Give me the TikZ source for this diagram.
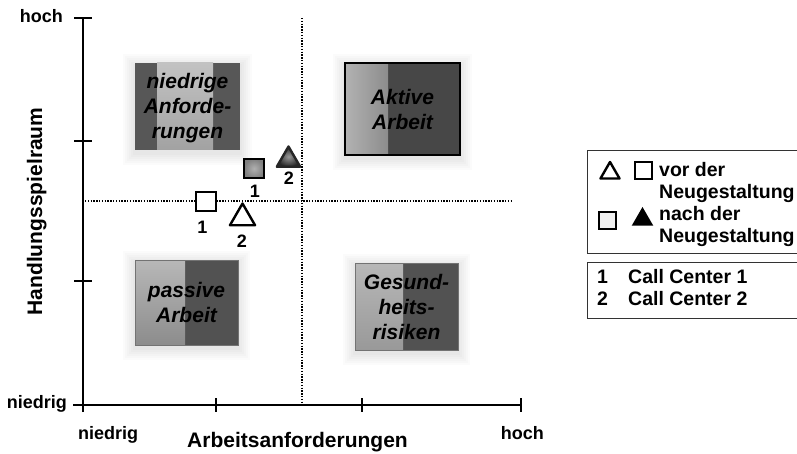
\documentclass[tikz,border=0pt]{standalone}
\usepackage{fontspec}
\setmainfont{Liberation Sans}
\usetikzlibrary{shapes.geometric}

\definecolor{fielddark}{HTML}{575757}
\definecolor{fieldlightA}{HTML}{C2C2C2}
\definecolor{fieldlightB}{HTML}{A2A2A2}
\definecolor{markgray}{HTML}{B0B0B0}

\begin{document}
\begin{tikzpicture}[x=1pt,y=-1pt,
  axis/.style={line width=2.4pt},
  tick/.style={line width=1.4pt},
  guide/.style={line width=1.5pt, dash pattern=on 1.4pt off 1.4pt},
  axlab/.style={font=\fontsize{18}{20}\selectfont\bfseries, inner sep=0pt},
  axtitle/.style={font=\fontsize{21}{24}\selectfont\bfseries, inner sep=0pt},
  fieldbox/.style={rectangle, inner sep=0pt, align=center,
    font=\fontsize{21}{25}\selectfont\bfseries\itshape},
  digit/.style={font=\fontsize{18}{20}\selectfont\bfseries, inner sep=0pt},
  sqmark/.style={rectangle, draw=black, line width=2.4pt, minimum size=19.5pt, inner sep=0pt},
  trimark/.style={regular polygon, regular polygon sides=3, draw=black,
    line width=2.4pt, line join=round, inner sep=0pt},
  legframe/.style={rectangle, draw=black!80, line width=1.3pt, inner sep=0pt, anchor=north west},
  legtext/.style={font=\fontsize{19.5}{22}\selectfont\bfseries, inner sep=0pt, anchor=base west},
]
\useasboundingbox (0,0) rectangle (797,454);
\fill[white] (0,0) rectangle (797,454);

% soft halos behind the four fields
\foreach \x/\y/\X/\Y in {135/63/240/150, 345/63/460/155, 135/260/238/345, 355/263/458/350}{
  \foreach \d in {12,10,8,6,4,2}{
    \fill[black, opacity=0.015] (\x-\d,\y-\d+3) rectangle (\X+\d,\Y+\d+3);
  }
}

% guide lines splitting the quadrants
\coordinate (vtop) at (302,18);
\coordinate (vbot) at (302,405);
\coordinate (hleft) at (85,201);
\coordinate (hright) at (513,201);
\draw[guide] (vtop) -- (vbot);
\draw[guide] (hleft) -- (hright);

% axes
\coordinate (origin) at (83,405);
\coordinate (ytop) at (83,18);
\coordinate (xend) at (521,405);
\draw[axis] (83,412) -- (ytop);
\draw[line width=2pt] (73,405) -- (xend);
\foreach \yy in {18,141,281}{
  \draw[tick] (74,\yy) -- (92,\yy);
}
\foreach \xx in {216,362,521}{
  \draw[tick] (\xx,398) -- (\xx,412);
}

% axis labels
\node[axlab, anchor=base east] (yhigh) at (63,23) {hoch};
\node[axlab, anchor=base east] (ylow) at (67,408) {niedrig};
\node[axlab, anchor=base west] (xlow) at (78,439) {niedrig};
\node[axlab, anchor=base east] (xhigh) at (544,439) {hoch};
\node[axtitle, anchor=base] (xtitle) at (297.5,447) {Arbeitsanforderungen};
\node[axtitle, anchor=base, rotate=90] (ytitle) at (42,211.5) {Handlungsspielraum};

% quadrant field fills: a dark body with a lighter band
\fill[fielddark] (135,63) rectangle (240,150);
\shade[top color=fieldlightA, bottom color=fieldlightB] (157,63) rectangle (213,150);

\fill[black!72] (345,63) rectangle (460,155);
\shade[left color=black!30, right color=black!45] (345,63) rectangle (388,155);

\fill[black!68] (135,260) rectangle (238,345);
\shade[top color=black!28, bottom color=black!45] (135,260) rectangle (185,345);

\fill[black!68] (355,263) rectangle (458,350);
\shade[top color=black!28, bottom color=black!40] (355,263) rectangle (403,350);

% quadrant field labels
\node[fieldbox, minimum width=105pt, minimum height=87pt] (lowdem) at (187.5,108) {niedrige\\Anforde-\\rungen};
\node[fieldbox, minimum width=115pt, minimum height=92pt, draw=black, line width=1.5pt] (active) at (402.5,109) {Aktive\\Arbeit};
\node[fieldbox, minimum width=103pt, minimum height=85pt, draw=black!55, line width=0.8pt] (passive) at (186.5,302.5) {passive\\Arbeit};
\node[fieldbox, minimum width=103pt, minimum height=87pt, draw=black!55, line width=0.8pt] (health) at (406.5,306.5) {Gesund-\\heits-\\risiken};

% call centre positions before and after the redesign
\node[sqmark, fill=white] (cc1pre) at (206,201.5) {};
\node[sqmark, inner color=markgray, outer color=black!50] (cc1post) at (254,168.5) {};
\node[trimark, minimum size=29pt, fill=white] (cc2pre) at (242.5,218) {};
\node[trimark, minimum size=27pt, inner color=black!40, outer color=black!85, draw=black!85] (cc2post) at (288.5,160) {};

\node[digit] (cc1prelab) at (202.5,227.5) {1};
\node[digit] (cc1postlab) at (255,191) {1};
\node[digit] (cc2prelab) at (242,241.5) {2};
\node[digit] (cc2postlab) at (289,178.5) {2};

% legend
\node[legframe, minimum width=220pt, minimum height=103pt] (legmarks) at (587,150) {};
\node[legframe, minimum width=220pt, minimum height=56pt] (legcentres) at (587,262) {};

\node[trimark, minimum size=22pt, line width=2.4pt, fill=white] (legtriopen) at (610,173) {};
\node[sqmark, minimum size=17pt, line width=2pt, fill=white] (legsqopen) at (643.5,170.5) {};
\node[sqmark, minimum size=17pt, line width=2pt, fill=black!6] (legsqfill) at (607.5,221) {};
\node[regular polygon, regular polygon sides=3, fill=black, minimum size=25pt, inner sep=0pt] (legtrifill) at (642.5,219.5) {};

\node[legtext] (legpre) at (659,177) {vor der};
\node[legtext] (legpreb) at (659,199) {Neugestaltung};
\node[legtext] (legpost) at (659,221) {nach der};
\node[legtext] (legpostb) at (659,243) {Neugestaltung};

\node[legtext] (legone) at (597,283.5) {1};
\node[legtext] (legonetxt) at (628,283.5) {Call Center 1};
\node[legtext] (legtwo) at (597,305.5) {2};
\node[legtext] (legtwotxt) at (628,305.5) {Call Center 2};
\end{tikzpicture}
\end{document}
